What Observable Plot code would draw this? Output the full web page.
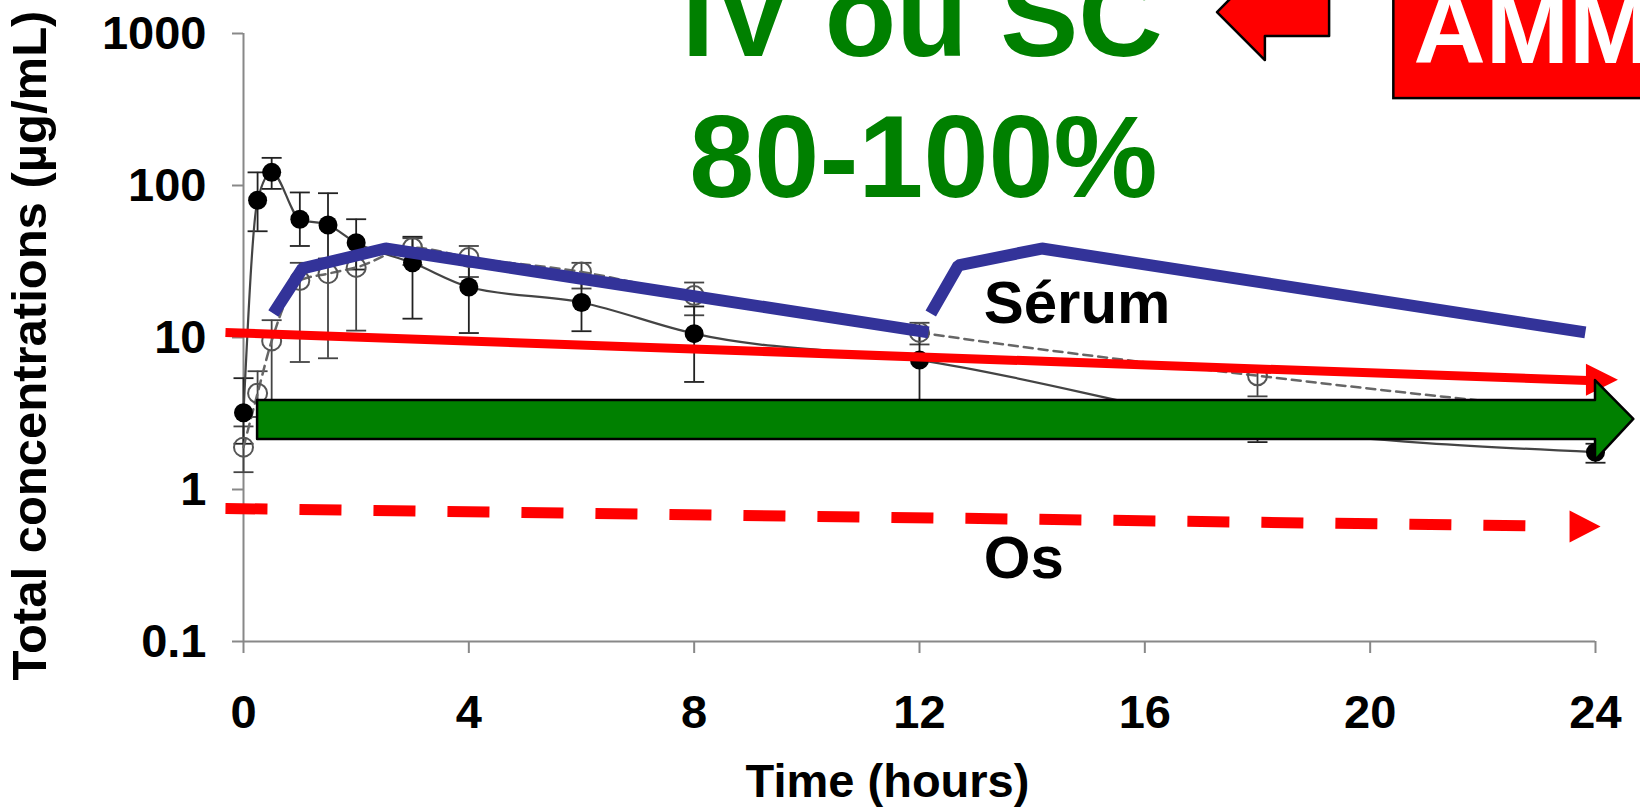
<!DOCTYPE html>
<html><head><meta charset="utf-8">
<script src="https://cdn.jsdelivr.net/npm/d3@7"></script>
<script src="https://cdn.jsdelivr.net/npm/@observablehq/plot@0.6"></script>
<style>
html,body{margin:0;padding:0;background:#fff;overflow:hidden;}
#chart svg{display:block;}
</style></head><body><div id="chart"></div>
<script>
const FONT = "'Liberation Sans', Arial, Helvetica, sans-serif";

// ---- measured series (time in hours, concentration in µg/mL) ----
const timeHours  = [0, 0.25, 0.5, 1, 1.5, 2, 3, 4, 6, 8, 12, 18, 24];
const filledMean = [3.2, 80, 122, 60, 55, 42, 31, 21.5, 17, 10.6, 7.1, 2.6, 1.76];
const filledHigh = [5.4, 122, 152, 90, 89, 60, 46, 30, 24, 16, 10.5, 3.6, 2.0];
const filledLow  = [2.0, 50, 95, 40, 33, 28, 13.3, 10.7, 11, 5.1, 3.5, 2.05, 1.5];
const openMean   = [1.9, 4.3, 9.5, 23.7, 26.3, 28.9, 39, 33.6, 27, 18.9, 10.8, 5.6, 3.2];
const openHigh   = [2.6, 6, 13, 31, 33, 36, 45, 40, 31, 23, 12.5, 6.4, 3.6];
const openLow    = [1.3, 3, 2.5, 6.9, 7.3, 11.1, 30, 25, 21, 14, 9, 4.1, 2.8];

// ---- axes ----
const xTicks = [0, 4, 8, 12, 16, 20, 24];
const yTicks = [0.1, 1, 10, 100, 1000];
const xLabel = "Time (hours)";
const yLabel = "Total concentrations (µg/mL)";

// ---- overlays drawn on the figure (data units) ----
const serumTime  = [0.53, 1.05, 2.52, 12.16, 12.2, 12.69, 14.17, 23.82];
const serumLevel = [14.4, 28.5, 38.5, 10.8, 14.4, 29.8, 38.5, 10.8];
const serumDose  = [1, 1, 1, 1, 2, 2, 2, 2];

const redSolidTime  = [-0.32, 23.86];
const redSolidLevel = [10.8, 5.21];
const redSolidHead  = {time: 23.83, level: 5.27};

const redDashTime  = [-0.32, 23.0];
const redDashLevel = [0.75, 0.575];
const redDashHead  = {time: 23.54, level: 0.571};

const greenArrowTime = [0.25, 24, 24, 24.68];
const greenArrowLow  = [2.13, 2.13, 1.55, 2.89];
const greenArrowHigh = [3.85, 3.85, 5.21, 2.89];

const ammArrowTime = [17.29, 18.14, 18.14, 19.28];
const ammArrowLow  = [1374, 664, 955, 955];
const ammArrowHigh = [1374, 2844, 1977, 1977];
const ammBox = {t1: 20.42, t2: 26, c1: 373, c2: 5000};

const greenNotes = ["IV ou SC", "80-100%"];
const greenNoteTime = [12.05, 12.07];
const greenNoteLevel = [716, 83.4];
const blackNotes = ["Sérum", "Os"];
const blackNoteTime = [13.14, 13.14];
const blackNoteLevel = [12.4, 0.26];
const ammNote = {text: "AMM", time: 20.77, level: 644};

// ---- build tables ----
const pts = timeHours.map((t, i) => ({t, f: filledMean[i], fHi: filledHigh[i], fLo: filledLow[i],
  o: openMean[i], oHi: openHigh[i], oLo: openLow[i]}));
const serum = serumTime.map((t, i) => ({t, c: serumLevel[i], dose: serumDose[i]}));
const redSolid = redSolidTime.map((t, i) => ({t, c: redSolidLevel[i]}));
const redDash = redDashTime.map((t, i) => ({t, c: redDashLevel[i]}));
const greenArrow = greenArrowTime.map((t, i) => ({t, lo: greenArrowLow[i], hi: greenArrowHigh[i]}));
const ammArrow = ammArrowTime.map((t, i) => ({t, lo: ammArrowLow[i], hi: ammArrowHigh[i]}));
const gNotes = greenNotes.map((s, i) => ({s, t: greenNoteTime[i], c: greenNoteLevel[i]}));
const bNotes = blackNotes.map((s, i) => ({s, t: blackNoteTime[i], c: blackNoteLevel[i]}));

const capSymbol = {draw(ctx, size) { const r = Math.sqrt(size / Math.PI); ctx.moveTo(-r, 0); ctx.lineTo(r, 0); }};
const headRight = (len, half) => ({draw(ctx) { ctx.moveTo(len, 0); ctx.lineTo(0, -half); ctx.lineTo(0, half); ctx.closePath(); }});

const GREEN = "#008000", RED = "#ff0000", BLUE = "#333399";

const chart = Plot.plot({
  width: 1640, height: 810,
  marginLeft: 243, marginRight: 45, marginTop: 33, marginBottom: 169,
  style: {fontFamily: FONT, background: "white", overflow: "hidden", color: "black"},
  x: {domain: [0, 24]},
  y: {type: "log", domain: [0.1, 1000]},
  marks: [
    Plot.ruleX([0], {stroke: "#888", strokeWidth: 2}),
    Plot.ruleY([0.1], {stroke: "#888", strokeWidth: 2}),
    Plot.axisX({ticks: xTicks, tickSize: 12, tickPadding: 41, fontSize: 47, fontWeight: "bold",
      stroke: "#888", strokeWidth: 2, fill: "black", label: null}),
    Plot.axisY({ticks: yTicks, tickFormat: d => String(d), tickSize: 11, tickPadding: 26, fontSize: 47,
      fontWeight: "bold", stroke: "#888", strokeWidth: 2, fill: "black", label: null}),
    Plot.text([yLabel], {text: d => d, frameAnchor: "left", textAnchor: "middle", lineAnchor: "middle",
      rotate: -90, dx: -213, dy: 8, fontSize: 49, fontWeight: "bold", fill: "black"}),
    Plot.text([xLabel], {text: d => d, frameAnchor: "bottom", textAnchor: "middle", lineAnchor: "bottom",
      dx: -32, dy: 155, fontSize: 47, fontWeight: "bold", fill: "black"}),

    // error bars
    Plot.ruleX(pts, {x: "t", y1: "oLo", y2: "oHi", stroke: "#444", strokeWidth: 1.8}),
    Plot.dot(pts, {x: "t", y: "oHi", symbol: capSymbol, r: 10, stroke: "#444", strokeWidth: 1.8, fill: "none"}),
    Plot.dot(pts, {x: "t", y: "oLo", symbol: capSymbol, r: 10, stroke: "#444", strokeWidth: 1.8, fill: "none"}),
    Plot.ruleX(pts, {x: "t", y1: "fLo", y2: "fHi", stroke: "#222", strokeWidth: 1.8}),
    Plot.dot(pts, {x: "t", y: "fHi", symbol: capSymbol, r: 10, stroke: "#222", strokeWidth: 1.8, fill: "none"}),
    Plot.dot(pts, {x: "t", y: "fLo", symbol: capSymbol, r: 10, stroke: "#222", strokeWidth: 1.8, fill: "none"}),
    // series lines
    Plot.line(pts, {x: "t", y: "o", stroke: "#666", strokeWidth: 2.5, strokeDasharray: "9,6", curve: "monotone-x"}),
    Plot.line(pts, {x: "t", y: "f", stroke: "#444", strokeWidth: 2.2, curve: "monotone-x"}),
    // markers
    Plot.dot(pts, {x: "t", y: "o", r: 9.5, stroke: "#555", strokeWidth: 2, fill: "none"}),
    Plot.dot(pts, {x: "t", y: "f", r: 9.5, fill: "black"}),

    // overlays
    Plot.line(serum, {x: "t", y: "c", z: "dose", stroke: BLUE, strokeWidth: 12, strokeLinejoin: "miter", strokeLinecap: "butt"}),
    Plot.line(redSolid, {x: "t", y: "c", stroke: RED, strokeWidth: 9, strokeLinecap: "butt"}),
    Plot.dot([redSolidHead], {x: "time", y: "level", symbol: headRight(32, 16), fill: RED, stroke: "none"}),
    Plot.line(redDash, {x: "t", y: "c", stroke: RED, strokeWidth: 11, strokeDasharray: "42,32", strokeLinecap: "butt"}),
    Plot.dot([redDashHead], {x: "time", y: "level", symbol: headRight(31, 16), fill: RED, stroke: "none"}),
    Plot.areaY(greenArrow, {x: "t", y1: "lo", y2: "hi", fill: GREEN, stroke: "black", strokeWidth: 2.5, fillOpacity: 1}),

    Plot.text(gNotes, {x: "t", y: "c", text: "s", fontSize: 117, fontWeight: "bold", fill: GREEN,
      textAnchor: "middle", lineAnchor: "bottom"}),
    Plot.text(bNotes, {x: "t", y: "c", text: "s", fontSize: 60, fontWeight: "bold", fill: "black",
      textAnchor: "start", lineAnchor: "bottom"}),

    Plot.areaY(ammArrow, {x: "t", y1: "lo", y2: "hi", fill: RED, stroke: "black", strokeWidth: 2.5, fillOpacity: 1}),
    Plot.rect([ammBox], {x1: "t1", x2: "t2", y1: "c1", y2: "c2", fill: RED, stroke: "black", strokeWidth: 2.5}),
    Plot.text([ammNote], {x: "time", y: "level", text: "text", fontSize: 100, fontWeight: "bold", fill: "white",
      textAnchor: "start", lineAnchor: "bottom"})
  ]
});
document.getElementById("chart").appendChild(chart);
</script></body></html>
